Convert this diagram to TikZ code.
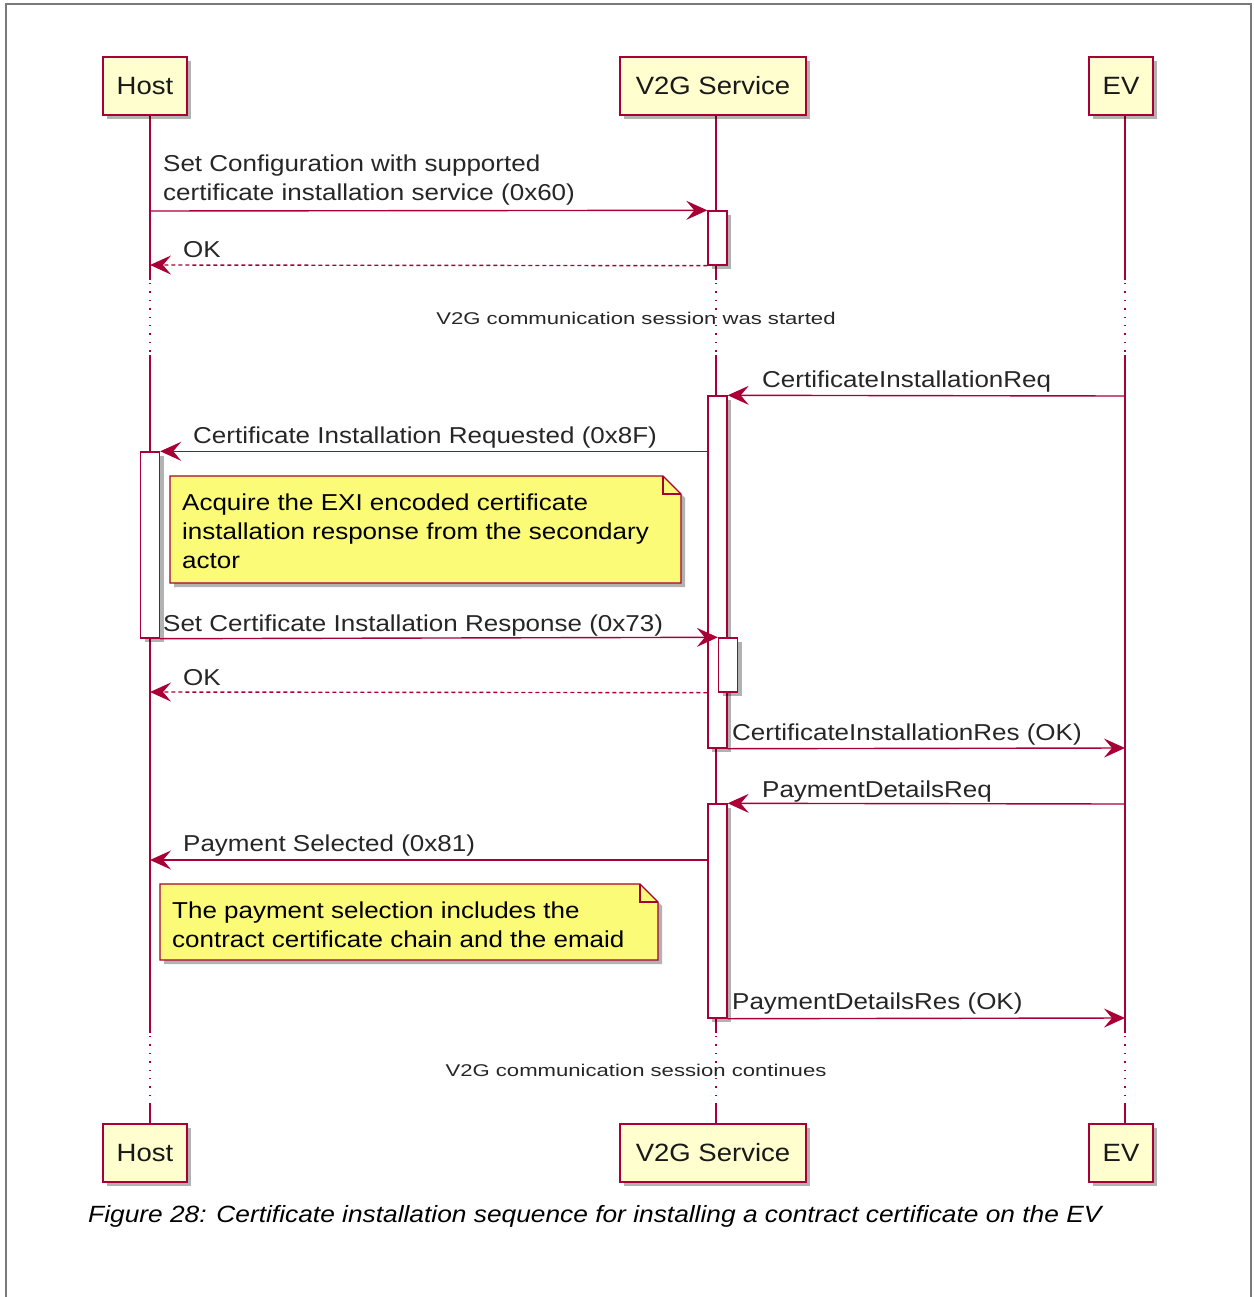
\documentclass[tikz,border=0pt]{standalone}
\usepackage{fontspec}
\setmainfont{Liberation Sans}
\newfontfamily\umlfont{Liberation Sans}[FakeStretch=1.13]
\newfontfamily\partfont{Liberation Sans}[FakeStretch=1.1]
\newfontfamily\divfont{Liberation Sans}[FakeStretch=1.3]
\newfontfamily\capfont{Liberation Sans}[FakeStretch=1.12]
\usetikzlibrary{arrows.meta,shadows}
\definecolor{pumlred}{HTML}{A80036}
\definecolor{partfill}{HTML}{FEFECE}
\definecolor{notefill}{HTML}{FBFB77}
\definecolor{framegray}{HTML}{7A7A7A}
\begin{document}
\begin{tikzpicture}[x=1pt,y=-1pt,
 shadowed/.style={drop shadow={shadow xshift=4pt,shadow yshift=-4pt,opacity=0.3,fill=black}},
 part/.style={draw=pumlred,line width=1.8pt,fill=partfill,shadowed,minimum height=58pt,inner sep=0,font=\partfont\fontsize{25}{30}\selectfont,text=black!90},
 life/.style={draw=pumlred,line width=1.4pt},
 lifedot/.style={life,dash pattern=on 1.4pt off 7pt},
 act/.style={draw=pumlred,line width=1.4pt,fill=white,shadowed,minimum width=19pt,inner sep=0},
 msg/.style={draw=pumlred,line width=1.4pt,-{Stealth[length=21pt,width=19pt,inset=8pt]}},
 reply/.style={msg,dash pattern=on 4pt off 3pt},
 lbl/.style={anchor=base west,inner sep=0,font=\umlfont\fontsize{23}{29}\selectfont,text=black!85},
 notebox/.style={draw=pumlred,line width=1.2pt,fill=notefill,shadowed},
 divlbl/.style={anchor=base,inner sep=0,font=\divfont\fontsize{17}{20}\selectfont,text=black!85},
]
\useasboundingbox (0,0) rectangle (1253,1297);
% frame
\draw[framegray,line width=1.5pt] (6,1297) -- (6,4) -- (1251,4) -- (1251,1297);

% lifelines
\foreach \lx in {150,716,1125}{
  \draw[life] (\lx,115) -- (\lx,280);
  \draw[lifedot] (\lx,283) -- (\lx,355);
  \draw[life] (\lx,355) -- (\lx,1033);
  \draw[lifedot] (\lx,1036) -- (\lx,1105);
  \draw[life] (\lx,1105) -- (\lx,1124);
}

% participants
\node[part,minimum width=84pt] (host) at (145,86) {Host};
\node[part,minimum width=186pt] (v2g) at (713,86) {V2G Service};
\node[part,minimum width=64pt] (ev) at (1121,86) {EV};
\node[part,minimum width=84pt] (hostb) at (145,1153) {Host};
\node[part,minimum width=186pt] (v2gb) at (713,1153) {V2G Service};
\node[part,minimum width=64pt] (evb) at (1121,1153) {EV};

% activation boxes
\node[act,minimum height=54pt] (a1) at (717.5,238) {};
\node[act,minimum height=352pt] (a2) at (717.5,572) {};
\node[act,minimum height=186pt] (a3) at (150,545) {};
\node[act,minimum height=54pt] (a4) at (728,665) {};
\node[act,minimum height=214pt] (a5) at (717.5,911) {};

% free ends
\coordinate (h1) at (150,211);
\coordinate (h2) at (150,265);
\coordinate (e3) at (1125,396);
\coordinate (h6) at (150,692);
\coordinate (e7) at (1125,748);
\coordinate (e8) at (1125,804);
\coordinate (h9) at (150,860);
\coordinate (e10) at (1125,1018);

% messages
\draw[msg] (h1) -- (a1.north west);
\draw[reply] (a1.south west) -- (h2);
\draw[msg] (e3) -- (a2.north east);
\draw[msg] (a2.west |- a3.north) -- (a3.north east);
\draw[msg] (a3.south east) -- (a4.north west);
\draw[reply] (a2.west |- a4.south) -- (h6);
\draw[msg] (a2.south east) -- (e7);
\draw[msg] (e8) -- (a5.north east);
\draw[msg] (a5.west |- h9) -- (h9);
\draw[msg] (a5.south east) -- (e10);

% labels
\node[lbl] (l1a) at (163,172) {Set Configuration with supported};
\node[lbl] (l1b) at (163,201) {certificate installation service (0x60)};
\node[lbl] (l2) at (183,257) {OK};
\node[lbl] (l3) at (762,387) {CertificateInstallationReq};
\node[lbl] (l4) at (193,443) {Certificate Installation Requested (0x8F)};
\node[lbl] (l5) at (163,631) {Set Certificate Installation Response (0x73)};
\node[lbl] (l6) at (183,685) {OK};
\node[lbl] (l7) at (732,740) {CertificateInstallationRes (OK)};
\node[lbl] (l8) at (762,797) {PaymentDetailsReq};
\node[lbl] (l9) at (183,851) {Payment Selected (0x81)};
\node[lbl] (l10) at (732,1009) {PaymentDetailsRes (OK)};

% notes
\draw[notebox] (170,476) -- (663,476) -- (681,494) -- (681,583) -- (170,583) -- cycle;
\draw[pumlred,line width=1.2pt] (663,476) -- (663,494) -- (681,494);
\node[lbl,text=black] (n1a) at (182,510) {Acquire the EXI encoded certificate};
\node[lbl,text=black] (n1b) at (182,539) {installation response from the secondary};
\node[lbl,text=black] (n1c) at (182,568) {actor};

\draw[notebox] (160,884) -- (640,884) -- (658,902) -- (658,960) -- (160,960) -- cycle;
\draw[pumlred,line width=1.2pt] (640,884) -- (640,902) -- (658,902);
\node[lbl,text=black] (n2a) at (172,918) {The payment selection includes the};
\node[lbl,text=black] (n2b) at (172,947) {contract certificate chain and the emaid};

% dividers
\node[divlbl] (d1) at (636,324) {V2G communication session was started};
\node[divlbl] (d2) at (636,1076) {V2G communication session continues};

% caption
\node[anchor=base west,inner sep=0,font=\capfont\fontsize{23.5}{28}\selectfont\itshape] (cap) at (88,1222) {Figure 28: Certificate installation sequence for installing a contract certificate on the EV};
\end{tikzpicture}
\end{document}
